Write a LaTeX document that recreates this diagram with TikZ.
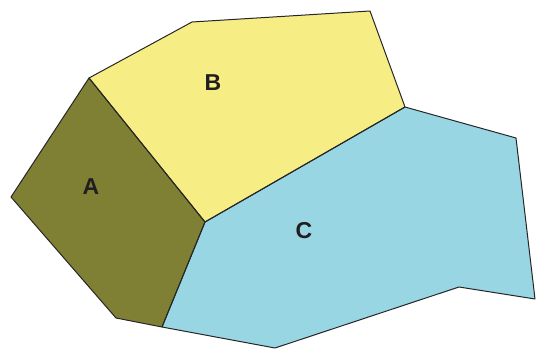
\documentclass[tikz,border=0pt]{standalone}
\usepackage{fontspec}
\setmainfont{Liberation Sans}
\definecolor{olivefill}{RGB}{127,128,52}
\definecolor{yellowfill}{RGB}{246,238,132}
\definecolor{bluefill}{RGB}{152,214,228}
\definecolor{labelcol}{RGB}{34,30,32}
\begin{document}
\begin{tikzpicture}[x=1pt,y=-1pt,
  region/.style={draw=black!85,line width=1pt,line join=round},
  lab/.style={font=\fontsize{23}{23}\selectfont\bfseries,text=labelcol,inner sep=0pt}]
\useasboundingbox (0,0) rectangle (537,348);
\coordinate (p1) at (89,78);
\coordinate (p2) at (192,22);
\coordinate (p3) at (370,11);
\coordinate (p4) at (405,107);
\coordinate (p5) at (205,222);
\coordinate (p6) at (11,197);
\coordinate (p7) at (116,318);
\coordinate (p8) at (162,327);
\coordinate (p9) at (516,138);
\coordinate (p10) at (535,299);
\coordinate (p11) at (459,287);
\coordinate (p12) at (275,348);
\fill[yellowfill] (p1) -- (p2) -- (p3) -- (p4) -- (p5) -- cycle;
\fill[olivefill] (p1) -- (p5) -- (p8) -- (p7) -- (p6) -- cycle;
\fill[bluefill] (p5) -- (p4) -- (p9) -- (p10) -- (p11) -- (p12) -- (p8) -- cycle;
\draw[region] (p1) -- (p2) -- (p3) -- (p4) -- (p5) -- cycle;
\draw[region] (p1) -- (p5) -- (p8) -- (p7) -- (p6) -- cycle;
\draw[region] (p5) -- (p4) -- (p9) -- (p10) -- (p11) -- (p12) -- (p8) -- cycle;
\node[lab] (la) at (91,187) {A};
\node[lab] (lb) at (213,83) {B};
\node[lab] (lc) at (304,231) {C};
\end{tikzpicture}
\end{document}
